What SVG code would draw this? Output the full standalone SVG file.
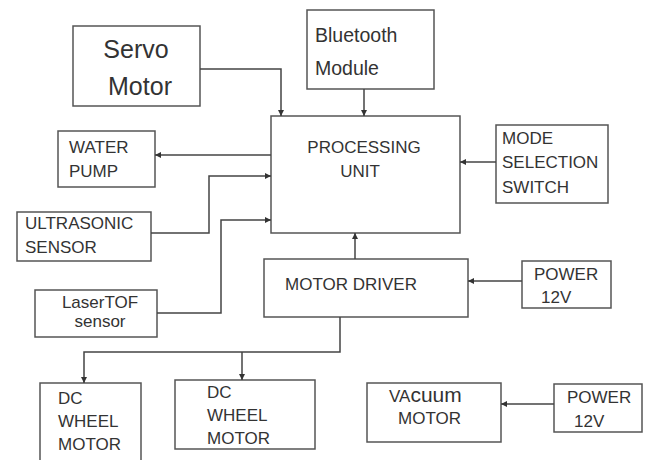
<svg xmlns="http://www.w3.org/2000/svg" width="648" height="460" viewBox="0 0 648 460">
<style>
.box{fill:#fff;stroke:#555;stroke-width:1.5}
.t{font-family:"Liberation Sans",Arial,sans-serif;fill:#333}
.c{fill:none;stroke:#444;stroke-width:1.5}
</style>
<defs>
<marker id="ah" viewBox="0 0 10 10" refX="10" refY="5" markerWidth="6" markerHeight="6" orient="auto" markerUnits="userSpaceOnUse">
<path d="M0,0 L10,5 L0,10 z" fill="#333"/>
</marker>
</defs>
<rect width="648" height="460" fill="#fff"/>
<g id="servo">
<rect class="box" x="73" y="26" width="127" height="80"/>
<text class="t" x="136" y="58" font-size="25" text-anchor="middle">Servo</text>
<text class="t" x="140" y="95" font-size="25" text-anchor="middle">Motor</text>
</g>
<g id="bluetooth">
<rect class="box" x="307" y="10" width="127" height="79"/>
<text class="t" x="315" y="42" font-size="19.5">Bluetooth</text>
<text class="t" x="315" y="75" font-size="19.5">Module</text>
</g>
<g id="processing">
<rect class="box" x="271" y="116" width="189" height="117"/>
<text class="t" x="364" y="153" font-size="17" text-anchor="middle">PROCESSING</text>
<text class="t" x="360" y="177" font-size="17" text-anchor="middle">UNIT</text>
</g>
<g id="water">
<rect class="box" x="58" y="131" width="97" height="56"/>
<text class="t" x="69" y="153" font-size="17">WATER</text>
<text class="t" x="69" y="177" font-size="17">PUMP</text>
</g>
<g id="ultrasonic">
<rect class="box" x="17" y="212" width="134" height="49"/>
<text class="t" x="25" y="229" font-size="17">ULTRASONIC</text>
<text class="t" x="25" y="253" font-size="17">SENSOR</text>
</g>
<g id="laser">
<rect class="box" x="35" y="290" width="122" height="47"/>
<text class="t" x="100" y="308" font-size="17" text-anchor="middle">LaserTOF</text>
<text class="t" x="100" y="327" font-size="17" text-anchor="middle">sensor</text>
</g>
<g id="mode">
<rect class="box" x="496" y="125" width="112" height="78"/>
<text class="t" x="502" y="144" font-size="17">MODE</text>
<text class="t" x="502" y="168" font-size="17">SELECTION</text>
<text class="t" x="502" y="193" font-size="17">SWITCH</text>
</g>
<g id="driver">
<rect class="box" x="264" y="259" width="204" height="58"/>
<text class="t" x="285" y="290" font-size="17">MOTOR DRIVER</text>
</g>
<g id="power1">
<rect class="box" x="522" y="261" width="89" height="47"/>
<text class="t" x="534" y="280" font-size="17">POWER</text>
<text class="t" x="541" y="303" font-size="17">12V</text>
</g>
<g id="dc1">
<rect class="box" x="40" y="383" width="101" height="80"/>
<text class="t" x="58" y="404" font-size="17">DC</text>
<text class="t" x="58" y="427" font-size="17">WHEEL</text>
<text class="t" x="58" y="450" font-size="17">MOTOR</text>
</g>
<g id="dc2">
<rect class="box" x="175" y="380" width="140" height="69"/>
<text class="t" x="207" y="398" font-size="17">DC</text>
<text class="t" x="207" y="421" font-size="17">WHEEL</text>
<text class="t" x="207" y="444" font-size="17">MOTOR</text>
</g>
<g id="vacuum">
<rect class="box" x="367" y="383" width="134" height="59"/>
<text class="t" x="389" y="402" font-size="17">VA<tspan font-size="21">cuum</tspan></text>
<text class="t" x="398" y="424" font-size="17">MOTOR</text>
</g>
<g id="power2">
<rect class="box" x="554" y="384" width="88" height="48"/>
<text class="t" x="567" y="403" font-size="17">POWER</text>
<text class="t" x="574" y="427" font-size="17">12V</text>
</g>
<g id="connectors">
<path class="c" d="M200,69 H281 V116" marker-end="url(#ah)"/>
<path class="c" d="M364,89 V116" marker-end="url(#ah)"/>
<path class="c" d="M271,155 H155" marker-end="url(#ah)"/>
<path class="c" d="M151,233 H209 V176 H271" marker-end="url(#ah)"/>
<path class="c" d="M157,313 H221 V220 H271" marker-end="url(#ah)"/>
<path class="c" d="M496,162 H460" marker-end="url(#ah)"/>
<path class="c" d="M355,259 V233" marker-end="url(#ah)"/>
<path class="c" d="M522,281 H468" marker-end="url(#ah)"/>
<path class="c" d="M340,317 V352 H84 V383" marker-end="url(#ah)"/>
<path class="c" d="M242,352 V380" marker-end="url(#ah)"/>
<path class="c" d="M554,404 H501" marker-end="url(#ah)"/>
</g>
</svg>
